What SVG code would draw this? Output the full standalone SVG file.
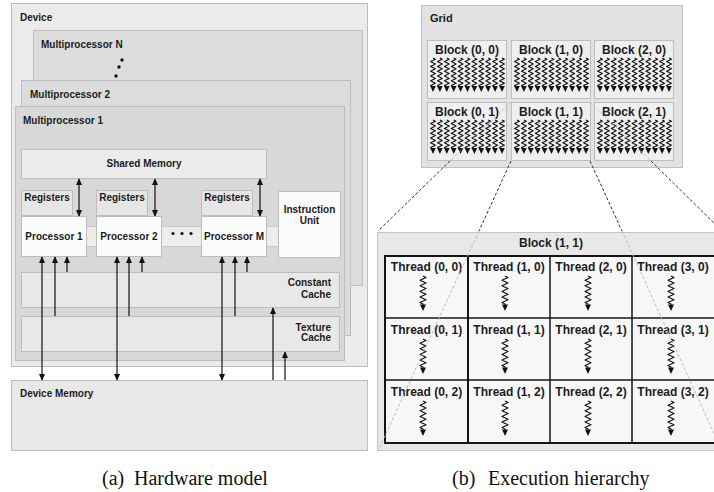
<svg xmlns="http://www.w3.org/2000/svg" xmlns:xlink="http://www.w3.org/1999/xlink" width="714" height="492" viewBox="0 0 714 492">
<style>
.t{font-family:"Liberation Sans",Arial,sans-serif;font-weight:bold;font-size:10px;fill:#1c1c1c}
.tb{font-family:"Liberation Sans",Arial,sans-serif;font-weight:bold;font-size:12px;fill:#1c1c1c}
.cap{font-family:"Liberation Serif","Times New Roman",serif;font-size:20px;fill:#111}
.box{stroke:#bdbdbd;stroke-width:1}
.ln{stroke:#111;stroke-width:1.2;fill:none}
.wv{stroke:#111;stroke-width:1.1;fill:none;stroke-linejoin:round}
.dk{stroke:#333;stroke-width:1;stroke-dasharray:3 2;fill:none}
.fn{stroke:#bbb;stroke-width:1;stroke-dasharray:3 2;fill:none}
.grid{stroke:#151515;fill:none}
</style>
<defs>
<marker id="ah" viewBox="0 0 10 10" refX="9" refY="5" markerWidth="7" markerHeight="7" markerUnits="userSpaceOnUse" orient="auto-start-reverse">
<path d="M0,0.5 L10,5 L0,9.5 z" fill="#111"/>
</marker>
<g id="w1">
<path class="wv" d="M0,0 l2.4,1.2 l-4.8,2.4 l4.8,2.4 l-4.8,2.4 l4.8,2.4 l-4.8,2.4 l4.8,2.4 l-4.8,2.4 l4.8,2.4 l-4.8,2.4 l4.8,2.4 l-4.8,2.4 l2.4,1.2 L0,30"/>
<path d="M-2.8,28 L2.8,28 L0,34 z" fill="#111"/>
</g>
<g id="waves">
<use xlink:href="#w1" x="6" y="18"/>
<use xlink:href="#w1" x="12.9" y="18"/>
<use xlink:href="#w1" x="19.8" y="18"/>
<use xlink:href="#w1" x="26.7" y="18"/>
<use xlink:href="#w1" x="33.6" y="18"/>
<use xlink:href="#w1" x="40.5" y="18"/>
<use xlink:href="#w1" x="47.4" y="18"/>
<use xlink:href="#w1" x="54.3" y="18"/>
<use xlink:href="#w1" x="61.2" y="18"/>
<use xlink:href="#w1" x="68.1" y="18"/>
<use xlink:href="#w1" x="75" y="18"/>
</g>
<g id="tsq">
<path class="wv" d="M0,0 l3,1.4 l-6,2.8 l6,2.8 l-6,2.8 l6,2.8 l-6,2.8 l6,2.8 l-6,2.8 l6,2.8 l-6,2.8 l3,1.4 L0,29.5"/>
<path d="M-3,28.5 L3,28.5 L0,35 z" fill="#111"/>
</g>
</defs>

<rect width="714" height="492" fill="#ffffff"/>

<!-- ===== Hardware model ===== -->
<g id="device">
<rect class="box" x="11.5" y="3.5" width="356" height="363" fill="#ebebeb" stroke="#c4c4c4"/>
<text class="t" x="20" y="21">Device</text>
</g>
<g id="mpN">
<rect class="box" x="33.5" y="30.5" width="329" height="255" fill="#dcdcdc"/>
<text class="t" x="41" y="47.5">Multiprocessor N</text>
<circle cx="122" cy="60" r="1.7" fill="#111"/>
<circle cx="119" cy="67" r="1.7" fill="#111"/>
<circle cx="116" cy="76" r="1.7" fill="#111"/>
</g>
<g id="mp2">
<rect class="box" x="21.5" y="80.5" width="329" height="255" fill="#dcdcdc"/>
<text class="t" x="30" y="98">Multiprocessor 2</text>
</g>
<g id="mp1">
<rect class="box" x="15.5" y="106.5" width="329" height="254" fill="#d8d8d8"/>
<text class="t" x="23" y="123.5">Multiprocessor 1</text>
</g>
<g id="shared-memory">
<rect class="box" x="21.5" y="149.5" width="245" height="29" fill="#ebebeb"/>
<text class="t" x="144" y="167" text-anchor="middle">Shared Memory</text>
</g>
<g id="band">
<rect x="21.5" y="226.5" width="257" height="20" fill="#ececec" stroke="#c8c8c8"/>
</g>
<g id="registers-1">
<rect class="box" x="21.5" y="190.5" width="51" height="25" fill="#e6e6e6"/>
<text class="t" x="47" y="201" text-anchor="middle">Registers</text>
</g>
<g id="registers-2">
<rect class="box" x="96.5" y="190.5" width="51" height="25" fill="#e6e6e6"/>
<text class="t" x="122" y="201" text-anchor="middle">Registers</text>
</g>
<g id="registers-m">
<rect class="box" x="201.5" y="190.5" width="51" height="25" fill="#e6e6e6"/>
<text class="t" x="227" y="201" text-anchor="middle">Registers</text>
</g>
<g id="processor-1">
<rect class="box" x="21.5" y="216.5" width="65" height="40" fill="#fbfbfb"/>
<text class="t" x="54" y="239.5" text-anchor="middle">Processor 1</text>
</g>
<g id="processor-2">
<rect class="box" x="96.5" y="216.5" width="65" height="40" fill="#fbfbfb"/>
<text class="t" x="129" y="239.5" text-anchor="middle">Processor 2</text>
</g>
<g id="ellipsis">
<circle cx="173" cy="233.5" r="1.6" fill="#111"/>
<circle cx="182" cy="233.5" r="1.6" fill="#111"/>
<circle cx="191" cy="233.5" r="1.6" fill="#111"/>
</g>
<g id="processor-m">
<rect class="box" x="201.5" y="216.5" width="65" height="40" fill="#fbfbfb"/>
<text class="t" x="234" y="239.5" text-anchor="middle">Processor M</text>
</g>
<g id="instruction-unit">
<rect class="box" x="278.5" y="191.5" width="62" height="66" fill="#fbfbfb"/>
<text class="t" x="309.5" y="213" text-anchor="middle">Instruction</text>
<text class="t" x="309.5" y="224" text-anchor="middle">Unit</text>
</g>
<g id="constant-cache">
<rect class="box" x="21.5" y="272.5" width="318" height="35" fill="#e8e8e8"/>
<text class="t" x="331" y="286" text-anchor="end">Constant</text>
<text class="t" x="331" y="297.5" text-anchor="end">Cache</text>
</g>
<g id="texture-cache">
<rect class="box" x="21.5" y="316.5" width="318" height="35" fill="#e8e8e8"/>
<text class="t" x="331" y="330.5" text-anchor="end">Texture</text>
<text class="t" x="331" y="341" text-anchor="end">Cache</text>
</g>
<g id="device-memory">
<rect class="box" x="11.5" y="380.5" width="356" height="70" fill="#e8e8e8"/>
<text class="t" x="20" y="397">Device Memory</text>
</g>

<g id="connectors">
<line class="ln" x1="79" y1="179" x2="79" y2="216" marker-start="url(#ah)" marker-end="url(#ah)"/>
<line class="ln" x1="155" y1="179" x2="155" y2="216" marker-start="url(#ah)" marker-end="url(#ah)"/>
<line class="ln" x1="260" y1="179" x2="260" y2="216" marker-start="url(#ah)" marker-end="url(#ah)"/>
<line class="ln" x1="42" y1="257" x2="42" y2="380" marker-start="url(#ah)" marker-end="url(#ah)"/>
<line class="ln" x1="55" y1="316" x2="55" y2="257" marker-end="url(#ah)"/>
<line class="ln" x1="67" y1="272" x2="67" y2="257" marker-end="url(#ah)"/>
<line class="ln" x1="117" y1="257" x2="117" y2="380" marker-start="url(#ah)" marker-end="url(#ah)"/>
<line class="ln" x1="129" y1="316" x2="129" y2="257" marker-end="url(#ah)"/>
<line class="ln" x1="142" y1="272" x2="142" y2="257" marker-end="url(#ah)"/>
<line class="ln" x1="222" y1="257" x2="222" y2="380" marker-start="url(#ah)" marker-end="url(#ah)"/>
<line class="ln" x1="235" y1="316" x2="235" y2="257" marker-end="url(#ah)"/>
<line class="ln" x1="247" y1="272" x2="247" y2="257" marker-end="url(#ah)"/>
<line class="ln" x1="273" y1="380" x2="273" y2="308" marker-end="url(#ah)"/>
<line class="ln" x1="285" y1="380" x2="285" y2="352" marker-end="url(#ah)"/>
</g>

<!-- ===== Execution hierarchy ===== -->
<g id="grid">
<rect x="421.5" y="5.5" width="261" height="162" fill="#e2e2e2" stroke="#c0c0c0"/>
<text class="tb" x="430" y="22" style="font-size:11px">Grid</text>
</g>
<g id="block-0-0">
<rect class="box" x="427.5" y="40.5" width="79" height="58" fill="#efefef"/>
<text class="tb" x="467" y="53.5" text-anchor="middle">Block (0, 0)</text>
<use xlink:href="#waves" x="427" y="40"/>
</g>
<g id="block-1-0">
<rect class="box" x="511.5" y="40.5" width="79" height="58" fill="#efefef"/>
<text class="tb" x="551" y="53.5" text-anchor="middle">Block (1, 0)</text>
<use xlink:href="#waves" x="511" y="40"/>
</g>
<g id="block-2-0">
<rect class="box" x="594.5" y="40.5" width="79" height="58" fill="#efefef"/>
<text class="tb" x="634" y="53.5" text-anchor="middle">Block (2, 0)</text>
<use xlink:href="#waves" x="594" y="40"/>
</g>
<g id="block-0-1">
<rect class="box" x="427.5" y="102.5" width="79" height="58" fill="#efefef"/>
<text class="tb" x="467" y="115.5" text-anchor="middle">Block (0, 1)</text>
<use xlink:href="#waves" x="427" y="102"/>
</g>
<g id="block-1-1">
<rect class="box" x="511.5" y="102.5" width="79" height="58" fill="#efefef"/>
<text class="tb" x="551" y="115.5" text-anchor="middle">Block (1, 1)</text>
<use xlink:href="#waves" x="511" y="102"/>
</g>
<g id="block-2-1">
<rect class="box" x="594.5" y="102.5" width="79" height="58" fill="#efefef"/>
<text class="tb" x="634" y="115.5" text-anchor="middle">Block (2, 1)</text>
<use xlink:href="#waves" x="594" y="102"/>
</g>

<g id="block-detail">
<rect x="377.5" y="232.5" width="350" height="218" fill="#e8e8e8" stroke="#c4c4c4"/>
<text class="tb" x="551" y="247" text-anchor="middle">Block (1, 1)</text>
<rect x="385" y="256" width="332" height="187" fill="#f7f7f7"/>
</g>
<g id="thread-0-0"><text class="tb" x="426.5" y="271" text-anchor="middle">Thread (0, 0)</text><use xlink:href="#tsq" x="423" y="276"/></g>
<g id="thread-1-0"><text class="tb" x="509" y="271" text-anchor="middle">Thread (1, 0)</text><use xlink:href="#tsq" x="505" y="276"/></g>
<g id="thread-2-0"><text class="tb" x="591" y="271" text-anchor="middle">Thread (2, 0)</text><use xlink:href="#tsq" x="588" y="276"/></g>
<g id="thread-3-0"><text class="tb" x="673" y="271" text-anchor="middle">Thread (3, 0)</text><use xlink:href="#tsq" x="671" y="276"/></g>
<g id="thread-0-1"><text class="tb" x="426.5" y="334" text-anchor="middle">Thread (0, 1)</text><use xlink:href="#tsq" x="423" y="339"/></g>
<g id="thread-1-1"><text class="tb" x="509" y="334" text-anchor="middle">Thread (1, 1)</text><use xlink:href="#tsq" x="505" y="339"/></g>
<g id="thread-2-1"><text class="tb" x="591" y="334" text-anchor="middle">Thread (2, 1)</text><use xlink:href="#tsq" x="588" y="339"/></g>
<g id="thread-3-1"><text class="tb" x="673" y="334" text-anchor="middle">Thread (3, 1)</text><use xlink:href="#tsq" x="671" y="339"/></g>
<g id="thread-0-2"><text class="tb" x="426.5" y="396" text-anchor="middle">Thread (0, 2)</text><use xlink:href="#tsq" x="423" y="401"/></g>
<g id="thread-1-2"><text class="tb" x="509" y="396" text-anchor="middle">Thread (1, 2)</text><use xlink:href="#tsq" x="505" y="401"/></g>
<g id="thread-2-2"><text class="tb" x="591" y="396" text-anchor="middle">Thread (2, 2)</text><use xlink:href="#tsq" x="588" y="401"/></g>
<g id="thread-3-2"><text class="tb" x="673" y="396" text-anchor="middle">Thread (3, 2)</text><use xlink:href="#tsq" x="671" y="401"/></g>
<g id="thread-grid-lines" class="grid">
<rect x="385" y="256" width="332" height="187" stroke-width="2"/>
<line x1="468" y1="256" x2="468" y2="443" stroke-width="2"/>
<line x1="550" y1="256" x2="550" y2="443" stroke-width="1.5"/>
<line x1="632" y1="256" x2="632" y2="443" stroke-width="1.5"/>
<line x1="385" y1="318" x2="717" y2="318" stroke-width="1.5"/>
<line x1="385" y1="380" x2="717" y2="380" stroke-width="1.5"/>
</g>

<g id="zoom-lines">
<line class="fn" x1="511" y1="102" x2="450" y2="161"/>
<line class="dk" x1="450" y1="161" x2="378" y2="231"/>
<line class="dk" x1="511" y1="161" x2="479" y2="231"/>
<line class="fn" x1="479" y1="231" x2="378" y2="451"/>
<line class="fn" x1="590" y1="102" x2="651" y2="161"/>
<line class="dk" x1="651" y1="161" x2="722" y2="231"/>
<line class="dk" x1="590" y1="161" x2="622" y2="231"/>
<line class="fn" x1="622" y1="231" x2="722" y2="451"/>
</g>

<g id="captions">
<text class="cap" x="102" y="485">(a)<tspan x="134">Hardware model</tspan></text>
<text class="cap" x="452" y="485">(b)<tspan x="488">Execution hierarchy</tspan></text>
</g>
</svg>
